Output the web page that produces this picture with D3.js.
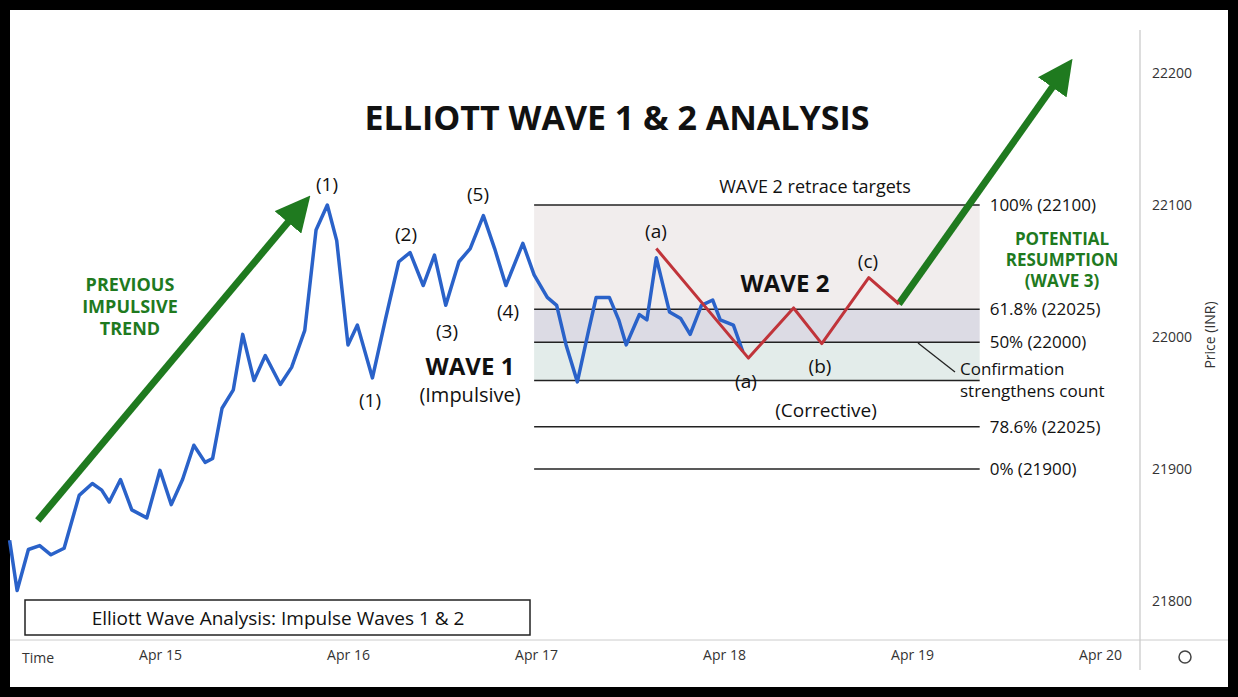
<!DOCTYPE html><html><head><meta charset="utf-8">
<script src="https://cdn.jsdelivr.net/npm/d3@7"></script>
<style>body{margin:0;background:#000}svg{display:block}</style></head><body>
<svg id="c" width="1238" height="697"></svg>
<script>
const priceTicks=[21800,21900,22000,22100,22200];
const dateTicks=[15,16,17,18,19,20];
const dateLabels=["Apr 15","Apr 16","Apr 17","Apr 18","Apr 19","Apr 20"];
const blueDays=[14.20,14.24,14.30,14.36,14.42,14.49,14.57,14.64,14.69,14.73,14.79,14.85,14.93,15.00,15.06,15.12,15.18,15.24,15.28,15.33,15.39,15.44,15.50,15.56,15.64,15.70,15.77,15.83,15.89,15.94,16.00,16.05,16.13,16.20,16.27,16.33,16.40,16.46,16.52,16.59,16.65,16.72,16.78,16.84,16.93,16.99,17.06,17.11,17.16,17.22,17.28,17.32,17.39,17.44,17.48,17.55,17.59,17.64,17.71,17.77,17.82,17.88,17.94,17.98,18.05,18.10];
const bluePrices=[21846,21808,21839,21842,21835,21840,21880,21889,21884,21875,21892,21869,21863,21899,21873,21892,21918,21905,21908,21946,21960,22002,21967,21986,21964,21977,22005,22081,22100,22073,21994,22009,21969,22014,22057,22064,22039,22062,22024,22057,22067,22092,22067,22039,22071,22047,22030,22024,21994,21966,22005,22030,22030,22013,21994,22017,22013,22060,22019,22014,22002,22024,22028,22013,22009,21989];
const redDays=[17.64,18.13,18.37,18.52,18.77,18.93];
const redPrices=[22067,21984,22022,21995,22045,22025];
const arrowUp=[[18.93,22025],[19.80,22200]];
const arrowPrev=[[14.35,21861],[15.74,22097]];
const fibPrices=[22100,22021,21996,21967,21932,21900];
const fibLabels=["100% (22100)","61.8% (22025)","50% (22000)","","78.6% (22025)","0% (21900)"];

const svg=d3.select("#c");
svg.append("rect").attr("x",10).attr("y",10).attr("width",1218).attr("height",677).attr("fill","#fff");
const x=d3.scaleLinear().domain([15,20]).range([160,1100]);
const y=d3.scaleLinear().domain([21800,22200]).range([601,73]);
const F="'Open Sans',Arial,sans-serif";
const zx0=x(16.99),zx1=x(19.36);
[[22100,22021,"#f1eded"],[22021,21996,"#dcdbe4"],[21996,21967,"#e3ecea"]].forEach(z=>{
 svg.append("rect").attr("x",zx0).attr("width",zx1-zx0).attr("y",y(z[0])).attr("height",y(z[1])-y(z[0])).attr("fill",z[2]);});
fibPrices.forEach((p,i)=>{
 svg.append("line").attr("x1",zx0).attr("x2",zx1).attr("y1",y(p)).attr("y2",y(p)).attr("stroke","#222").attr("stroke-width",1.6);
 if(fibLabels[i]) svg.append("text").attr("x",zx1+10).attr("y",y(p)+6).text(fibLabels[i]).attr("font-family",F).attr("font-size",17).attr("fill","#111");});
svg.append("line").attr("x1",918).attr("y1",343).attr("x2",955).attr("y2",372).attr("stroke","#222").attr("stroke-width",1.3);
svg.append("line").attr("x1",1140).attr("x2",1140).attr("y1",30).attr("y2",670).attr("stroke","#bbb");
svg.append("line").attr("x1",10).attr("x2",1228).attr("y1",640).attr("y2",640).attr("stroke","#ccc");
const ya=svg.append("g").attr("transform","translate(1140,0)").call(d3.axisRight(y).tickValues(priceTicks).tickSize(0).tickPadding(12).tickFormat(d3.format("d")));
ya.select(".domain").remove();ya.selectAll("text").attr("font-family",F).attr("font-size",14).attr("fill","#333");
const xa=svg.append("g").attr("transform","translate(0,646)").call(d3.axisBottom(x).tickValues(dateTicks).tickSize(0).tickPadding(4).tickFormat((d,i)=>dateLabels[i]));
xa.select(".domain").remove();xa.selectAll("text").attr("font-family",F).attr("font-size",14).attr("fill","#333");
svg.append("text").attr("x",38).attr("y",663).attr("text-anchor","middle").text("Time").attr("font-family",F).attr("font-size",14).attr("fill","#333");
svg.append("text").attr("transform","translate(1215,335) rotate(-90)").attr("text-anchor","middle").text("Price (INR)").attr("font-family",F).attr("font-size",14).attr("fill","#333");
svg.append("circle").attr("cx",1185).attr("cy",657).attr("r",6).attr("fill","none").attr("stroke","#444").attr("stroke-width",1.5);
const defs=svg.append("defs");
defs.append("marker").attr("id","ah").attr("viewBox","0 0 10 10").attr("refX",5).attr("refY",5).attr("markerWidth",5).attr("markerHeight",5).attr("orient","auto")
 .append("path").attr("d","M0,0L10,5L0,10z").attr("fill","#1f7a1f");
const line=d3.line().x(d=>x(d[0])).y(d=>y(d[1]));
[arrowPrev,arrowUp].forEach(a=>svg.append("path").attr("d",line(a)).attr("stroke","#1f7a1f").attr("stroke-width",7).attr("fill","none").attr("marker-end","url(#ah)"));
svg.append("path").attr("d",line(blueDays.map((d,i)=>[d,bluePrices[i]]))).attr("fill","none").attr("stroke","#2a62c9").attr("stroke-width",3.5).attr("stroke-linejoin","round");
svg.append("path").attr("d",line(redDays.map((d,i)=>[d,redPrices[i]]))).attr("fill","none").attr("stroke","#c0343a").attr("stroke-width",3).attr("stroke-linejoin","round");
function t(xp,yp,s,sz,opt={}){svg.append("text").attr("x",xp).attr("y",yp).attr("text-anchor",opt.a||"middle").attr("font-family",F).attr("font-size",sz).attr("font-weight",opt.w||"normal").attr("fill",opt.c||"#111").text(s);}
t(617,130,"ELLIOTT WAVE 1 & 2 ANALYSIS",34,{w:"bold"});
["PREVIOUS","IMPULSIVE","TREND"].forEach((s,i)=>t(130,291+i*22,s,18,{w:"bold",c:"#1f7a1f"}));
["POTENTIAL","RESUMPTION","(WAVE 3)"].forEach((s,i)=>t(1062,245+i*21,s,17,{w:"bold",c:"#1f7a1f"}));
t(327,191,"(1)",19);t(406,241,"(2)",19);t(447,338,"(3)",19);t(508,318,"(4)",19);t(478,201,"(5)",19);t(370,407,"(1)",19);
t(470,375,"WAVE 1",24,{w:"bold"});t(470,402,"(Impulsive)",20);
t(815,193,"WAVE 2 retrace targets",18);
t(785,292,"WAVE 2",24,{w:"bold"});
t(656,238,"(a)",19);t(746,388,"(a)",19);t(820,373,"(b)",19);t(868,268,"(c)",19);
t(826,417,"(Corrective)",19);
t(960,375,"Confirmation",17,{a:"start"});t(960,397,"strengthens count",17,{a:"start"});
svg.append("rect").attr("x",25).attr("y",600).attr("width",505).attr("height",35).attr("fill","#fff").attr("stroke","#222").attr("stroke-width",1.5);
t(278,625,"Elliott Wave Analysis: Impulse Waves 1 & 2",19);
</script></body></html>
